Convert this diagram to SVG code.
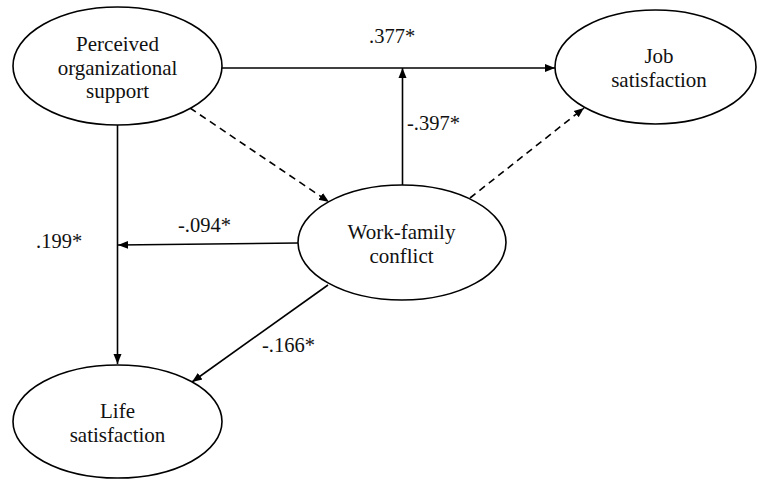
<svg xmlns="http://www.w3.org/2000/svg" width="758" height="480" viewBox="0 0 758 480" font-family="'Liberation Serif', 'Times New Roman', serif">
<style>
.node ellipse{fill:#fff;stroke:#000;stroke-width:1.6}
text{font-family:'Liberation Serif','Times New Roman',serif;font-size:21px;fill:#111}
.nt{text-anchor:middle}
.lbl{font-family:'Liberation Serif','Times New Roman',serif;font-size:20.5px}
.c line{stroke:#000;stroke-width:1.6;fill:none}
.c .d{stroke-dasharray:7 5}
</style>
<defs>
<marker id="ah" viewBox="0 0 10 10" refX="10" refY="5" markerWidth="10" markerHeight="10" markerUnits="userSpaceOnUse" orient="auto">
<path d="M0,1 L10,5 L0,9 Z" fill="#000"/>
</marker>
</defs>
<rect width="758" height="480" fill="#fff"/>
<g class="c">
<line x1="222" y1="68" x2="555" y2="68" marker-end="url(#ah)"/>
<line x1="402.5" y1="185" x2="402.5" y2="68" marker-end="url(#ah)"/>
<line class="d" x1="190" y1="108" x2="329" y2="202" marker-end="url(#ah)"/>
<line class="d" x1="470" y1="198" x2="584" y2="108" marker-end="url(#ah)"/>
<line x1="117.5" y1="125" x2="117.5" y2="364" marker-end="url(#ah)"/>
<line x1="298" y1="243" x2="118" y2="245" marker-end="url(#ah)"/>
<line x1="328" y1="285" x2="192" y2="382" marker-end="url(#ah)"/>
</g>
<g id="pos" class="node">
<ellipse cx="117.5" cy="66" rx="104.5" ry="59"/>
<text class="nt" x="117.5" y="51" font-family="Liberation Serif, serif">Perceived</text>
<text class="nt" x="117.5" y="74.5" font-family="Liberation Serif, serif">organizational</text>
<text class="nt" x="117.5" y="98" font-family="Liberation Serif, serif">support</text>
</g>
<g id="job" class="node">
<ellipse cx="655.5" cy="67" rx="100.5" ry="57"/>
<text class="nt" x="659" y="63" font-family="Liberation Serif, serif">Job</text>
<text class="nt" x="659" y="87" font-family="Liberation Serif, serif">satisfaction</text>
</g>
<g id="wfc" class="node">
<ellipse cx="402" cy="242.5" rx="104" ry="57.5"/>
<text class="nt" x="401.5" y="239" font-family="Liberation Serif, serif">Work-family</text>
<text class="nt" x="401.5" y="263" font-family="Liberation Serif, serif">conflict</text>
</g>
<g id="life" class="node">
<ellipse cx="117.5" cy="421.5" rx="104.5" ry="56.5"/>
<text class="nt" x="117.5" y="418" font-family="Liberation Serif, serif">Life</text>
<text class="nt" x="117.5" y="442" font-family="Liberation Serif, serif">satisfaction</text>
</g>
<g id="labels">
<text class="lbl" x="369" y="43" font-family="Liberation Serif, serif">.377*</text>
<text class="lbl" x="407" y="130" font-family="Liberation Serif, serif">-.397*</text>
<text class="lbl" x="178" y="232" font-family="Liberation Serif, serif">-.094*</text>
<text class="lbl" x="36" y="248" font-family="Liberation Serif, serif">.199*</text>
<text class="lbl" x="262" y="352" font-family="Liberation Serif, serif">-.166*</text>
</g>
</svg>
